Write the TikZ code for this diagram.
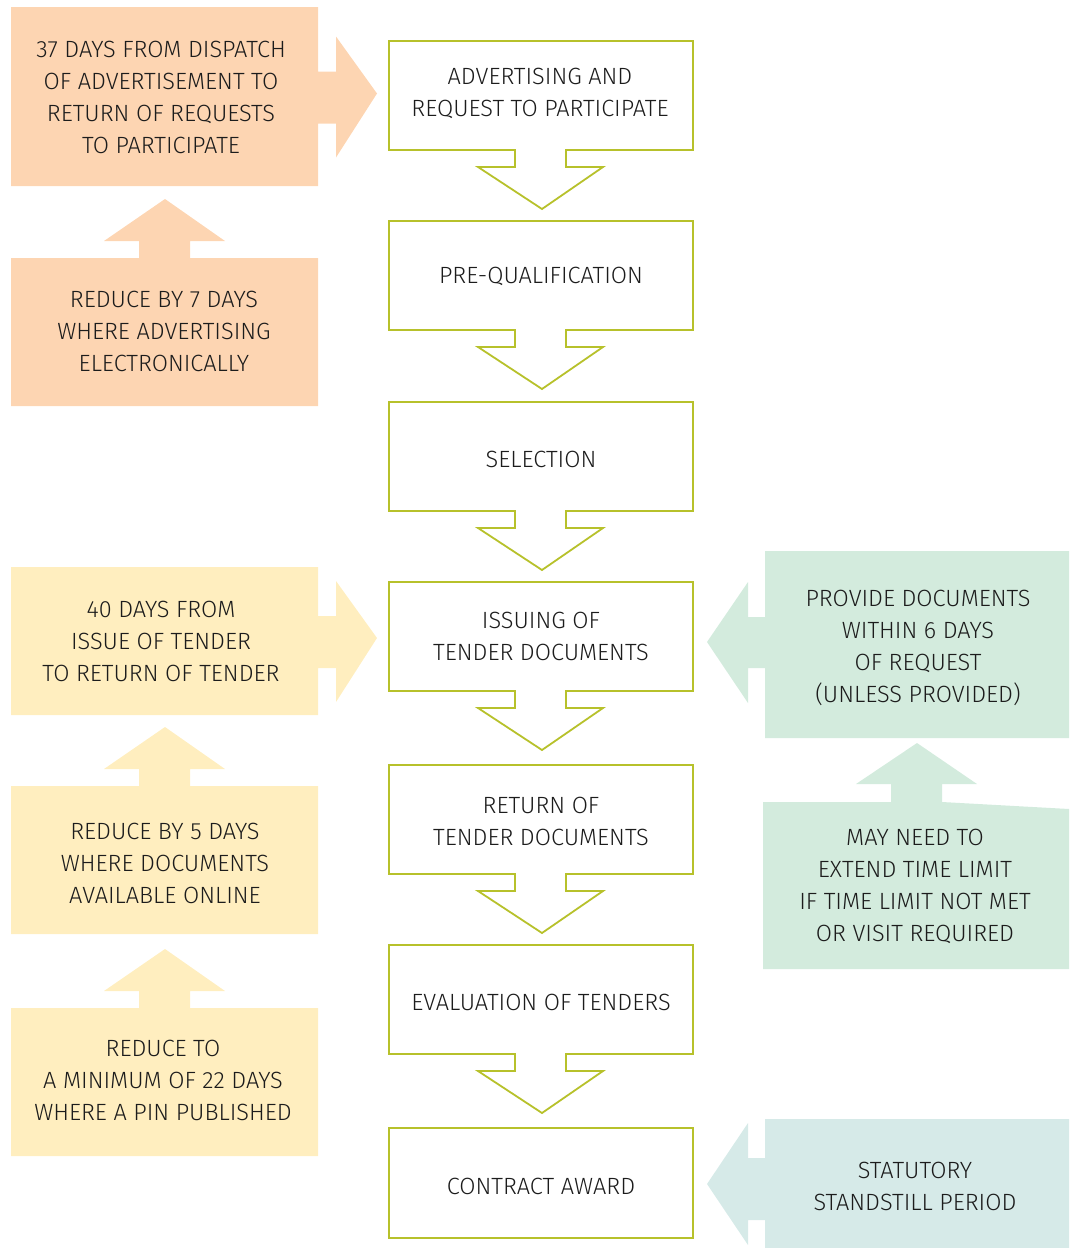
\documentclass[tikz,border=0pt]{standalone}
\usepackage{fontspec}
\setmainfont{Fira Sans Light}
\definecolor{flowline}{RGB}{183,193,43}
\definecolor{peach}{RGB}{253,213,178}
\definecolor{cream}{RGB}{255,238,191}
\definecolor{mint}{RGB}{211,235,221}
\definecolor{paleteal}{RGB}{214,234,232}
\definecolor{ink}{RGB}{28,28,28}
\begin{document}
\begin{tikzpicture}[x=1pt,y=-1pt,
  label/.style={text=ink,align=center,inner sep=0pt,font=\fontsize{23.5}{32}\selectfont},
  outline/.style={draw=flowline,line width=1.8pt,fill=white,line join=miter}]
\useasboundingbox (0,0) rectangle (1072,1248);

% process steps: box with notched arrow pointing to the next step
\newcommand\stepshape[1]{%
  \draw[outline] (389,#1) -- (693,#1) -- (693,{#1+109}) -- (566,{#1+109}) -- (566,{#1+126})
    -- (603,{#1+126}) -- (542,{#1+168}) -- (478,{#1+126}) -- (515,{#1+126}) -- (515,{#1+109})
    -- (389,{#1+109}) -- cycle;}
\stepshape{41}
\stepshape{221}
\stepshape{402}
\stepshape{582}
\stepshape{765}
\stepshape{945}
\draw[outline] (389,1128) rectangle (693,1238);

\node[label] (s1) at (540,93) {ADVERTISING AND\\REQUEST TO PARTICIPATE};
\node[label] (s2) at (541,276) {PRE-QUALIFICATION};
\node[label] (s3) at (541,459) {SELECTION};
\node[label] (s4) at (541,636) {ISSUING OF\\TENDER DOCUMENTS};
\node[label] (s5) at (541,821) {RETURN OF\\TENDER DOCUMENTS};
\node[label] (s6) at (541,1002) {EVALUATION OF TENDERS};
\node[label] (s7) at (541,1186) {CONTRACT AWARD};

% right-pointing block arrow from a side note (#1 top, #2 bottom, #3 colour)
\newcommand\rightnote[3]{%
  \fill[#3] (11,#1) -- (318,#1) -- (318,{(#1+#2)/2-25}) -- (336,{(#1+#2)/2-25})
    -- (336,{(#1+#2)/2-60}) -- (377,{(#1+#2)/2-3}) -- (336,{(#1+#2)/2+61})
    -- (336,{(#1+#2)/2+27}) -- (318,{(#1+#2)/2+27}) -- (318,#2) -- (11,#2) -- cycle;}
% upward block arrow sitting on top of a side note (#1 top, #2 bottom, #3 colour)
\newcommand\upnote[3]{%
  \fill[#3] (11,#1) -- (139,#1) -- (139,{#1-17}) -- (104,{#1-17}) -- (165,{#1-59})
    -- (225,{#1-17}) -- (190,{#1-17}) -- (190,#1) -- (318,#1) -- (318,#2) -- (11,#2) -- cycle;}

\rightnote{7}{186}{peach}
\upnote{258}{406}{peach}
\rightnote{567}{715}{cream}
\upnote{786}{934}{cream}
\upnote{1008}{1156}{cream}

\node[label] (n1) at (161,97) {37 DAYS FROM DISPATCH\\OF ADVERTISEMENT TO\\RETURN OF REQUESTS\\TO PARTICIPATE};
\node[label] (n2) at (164,331) {REDUCE BY 7 DAYS\\WHERE ADVERTISING\\ELECTRONICALLY};
\node[label] (n3) at (161,641) {40 DAYS FROM\\ISSUE OF TENDER\\TO RETURN OF TENDER};
\node[label] (n4) at (165,863) {REDUCE BY 5 DAYS\\WHERE DOCUMENTS\\AVAILABLE ONLINE};
\node[label] (n5) at (163,1080) {REDUCE TO\\A MINIMUM OF 22 DAYS\\WHERE A PIN PUBLISHED};

% right-hand notes pointing back to the steps
\fill[mint] (1069,551) -- (765,551) -- (765,617) -- (748,617) -- (748,582) -- (707,642)
  -- (748,703) -- (748,668) -- (765,668) -- (765,738) -- (1069,738) -- cycle;
\fill[mint] (763,802) -- (891,802) -- (891,784) -- (856,784) -- (917,743) -- (977,784)
  -- (942,784) -- (942,802) -- (1069,809) -- (1069,969) -- (763,969) -- cycle;
\fill[paleteal] (1069,1119) -- (765,1119) -- (765,1158) -- (748,1158) -- (748,1123) -- (707,1184)
  -- (748,1245) -- (748,1220) -- (765,1220) -- (765,1248) -- (1069,1248) -- cycle;

\node[label] (m1) at (918,648) {PROVIDE DOCUMENTS\\WITHIN 6 DAYS\\OF REQUEST\\(UNLESS PROVIDED)};
\node[label] (m2) at (915,886) {MAY NEED TO\\EXTEND TIME LIMIT\\IF TIME LIMIT NOT MET\\OR VISIT REQUIRED};
\node[label] (m3) at (915,1186) {STATUTORY\\STANDSTILL PERIOD};
\end{tikzpicture}
\end{document}
